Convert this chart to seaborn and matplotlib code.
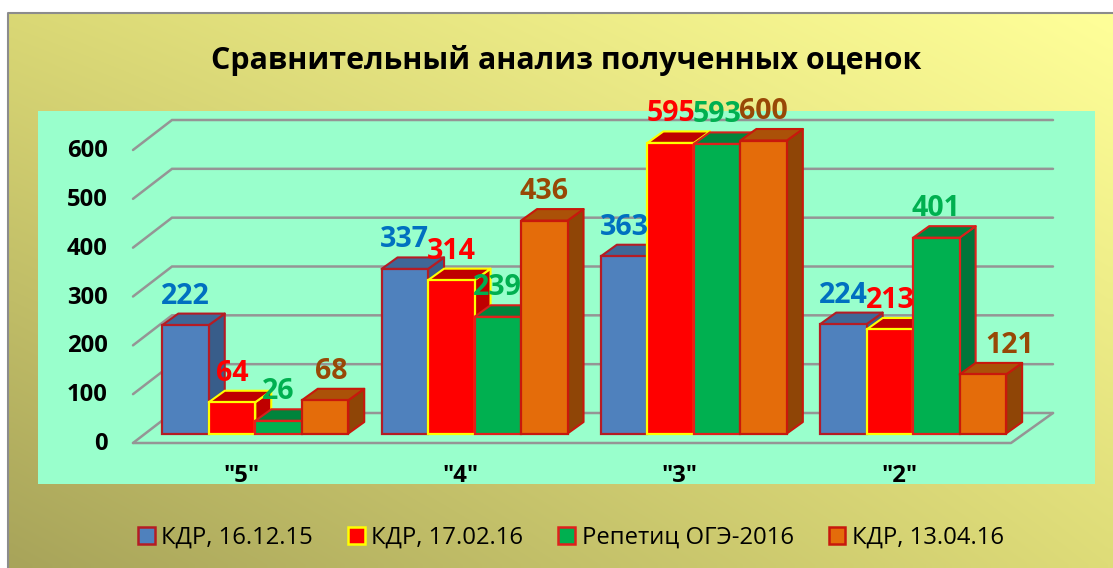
import numpy as np
import pandas as pd
import matplotlib
matplotlib.use("Agg")
import matplotlib.pyplot as plt
from matplotlib.patches import Polygon, Patch, Rectangle
from matplotlib.transforms import ScaledTranslation
from matplotlib.colors import to_rgb
import seaborn as sns

categories = ['"5"', '"4"', '"3"', '"2"']
series_names = ["КДР, 16.12.15", "КДР, 17.02.16", "Репетиц ОГЭ-2016", "КДР, 13.04.16"]
kdr_dec = [222, 337, 363, 224]
kdr_feb = [64, 314, 595, 213]
repetition = [26, 239, 593, 401]
kdr_apr = [68, 436, 600, 121]
y_ticks = [0, 100, 200, 300, 400, 500, 600]

W, H = 1113, 568
DPI = 100
FONT = "Open Sans"

face = ["#4F81BD", "#FF0000", "#00B050", "#E46C0A"]
edge = ["#B51C24", "#FFFF00", "#E0201C", "#C8180C"]
top_c = ["#3F6797", "#BF0000", "#00843C", "#AB5108"]
side_c = ["#385D8A", "#BF0000", "#00753A", "#8F4506"]
top_edge = ["#B51C24", "#FFFF00", "#D8201C", "#C8180C"]
label_c = ["#0070C0", "#FF0000", "#00B050", "#984806"]

sns.set_theme(style="white")
plt.rcParams["font.family"] = [FONT, "DejaVu Sans"]

fig = plt.figure(figsize=(W / DPI, H / DPI), dpi=DPI, facecolor="white")

# background layer in pixel coordinates
bg = fig.add_axes([0, 0, 1, 1], zorder=0)
bg.set_xlim(0, W)
bg.set_ylim(H, 0)
bg.axis("off")
tl, tr = np.array(to_rgb("#DAD875")), np.array(to_rgb("#FFFF99"))
bl, br = np.array(to_rgb("#A8A45A")), np.array(to_rgb("#DEDC78"))
u = np.linspace(0, 1, 120)[None, :, None]
t = np.linspace(0, 1, 80)[:, None, None]
grad = (1 - t) * ((1 - u) * tl + u * tr) + t * ((1 - u) * bl + u * br)
bg.imshow(grad, extent=(8, W, H, 13), interpolation="bilinear", aspect="auto", zorder=1)
bg.set_xlim(0, W)
bg.set_ylim(H, 0)
bg.plot([8, 8, W], [H, 13, 13], color="#8C8C8C", lw=1.5, zorder=2)
bg.add_patch(Rectangle((38, 111), 1057, 373, facecolor="#99FFCC", edgecolor="none", zorder=3))

# front plane of the bars
left_px, right_px = 145.6, 1022.8
base_px, top_px = 433.5, 140.5
ax = fig.add_axes([left_px / W, 1 - base_px / H, (right_px - left_px) / W, (base_px - top_px) / H], zorder=1)
ax.patch.set_alpha(0)

df = pd.DataFrame({
    "cat": np.tile(categories, 4),
    "series": np.repeat(series_names, 4),
    "value": kdr_dec + kdr_feb + repetition + kdr_apr,
})
sns.barplot(data=df, x="cat", y="value", hue="series", order=categories, hue_order=series_names,
            palette=face, width=0.848, gap=0, saturation=1, legend=False, ax=ax, errorbar=None)
ax.set_xlim(-0.5, 3.5)
ax.set_ylim(0, 600)
for s in ax.spines.values():
    s.set_visible(False)
ax.set_xlabel("")
ax.set_ylabel("")

px_x = (right_px - left_px) / 4
px_y = (base_px - top_px) / 600
dx_px, dy_px = 16, 11.5
dx, dy = dx_px / px_x, dy_px / px_y

# depth gridlines
gc = "#959595"
fx = -0.5 + (133 - left_px) / px_x
bx = -0.5 + (172 - left_px) / px_x
ex = -0.5 + (1053 - left_px) / px_x
frx = -0.5 + (1011 - left_px) / px_x
fy = -(443 - base_px) / px_y
by = (base_px - 413) / px_y
for v in y_ticks:
    ax.plot([fx, bx, ex], [v + fy, v + by, v + by], color=gc, lw=1.8, clip_on=False, zorder=1,
            solid_joinstyle="miter")
ax.plot([fx, frx, ex], [fy, fy, by], color=gc, lw=1.8, clip_on=False, zorder=1)

# 3D faces on the bars, left to right
bars = []
for si, cont in enumerate(ax.containers):
    for b in cont.patches:
        bars.append((b.get_x(), si, b))
bars.sort(key=lambda t_: t_[0])
z = 3.0
for _, si, b in bars:
    x0, w, h = b.get_x(), b.get_width(), b.get_height()
    x1 = x0 + w
    ax.add_patch(Polygon([(x1, 0), (x1 + dx, dy), (x1 + dx, h + dy), (x1, h)], closed=True,
                         facecolor=side_c[si], edgecolor=edge[si], lw=1.5, clip_on=False,
                         zorder=z, joinstyle="round"))
    ax.add_patch(Polygon([(x0, h), (x0 + dx, h + dy), (x1 + dx, h + dy), (x1, h)], closed=True,
                         facecolor=top_c[si], edgecolor=top_edge[si], lw=1.5, clip_on=False,
                         zorder=z + 0.1, joinstyle="round"))
    b.set_edgecolor(edge[si])
    b.set_linewidth(1.6)
    b.set_clip_on(False)
    b.set_zorder(z + 0.2)
    z += 0.3

# value labels; (series, category) -> horizontal nudge in pixels
label_shift = {(3, 3): 27, (3, 0): 6}
for si, cont in enumerate(ax.containers):
    for ci, b in enumerate(cont.patches):
        val = b.get_height()
        shift = label_shift.get((si, ci), 0)
        ax.annotate(f"{int(val)}", (b.get_x() + b.get_width() / 2, val),
                    xytext=(shift * 72 / DPI, 29 * 72 / DPI), textcoords="offset points",
                    ha="center", va="center", fontsize=20.5, fontweight="bold", color=label_c[si],
                    zorder=50, annotation_clip=False, family=FONT)

# ticks
ax.set_yticks(y_ticks)
ax.set_yticklabels([str(v) for v in y_ticks], fontsize=17.2, fontweight="bold", color="black")
ax.set_xticks(range(4))
ax.set_xticklabels(categories, fontsize=17.2, fontweight="bold", color="black")
ax.tick_params(axis="both", length=0)
ax.tick_params(axis="y", pad=38 * 72 / DPI)
ax.tick_params(axis="x", pad=30 * 72 / DPI)
for lab in ax.get_yticklabels():
    lab.set_transform(lab.get_transform() + ScaledTranslation(0, -7.5 / DPI, fig.dpi_scale_trans))
for lab in ax.get_xticklabels():
    lab.set_transform(lab.get_transform() + ScaledTranslation(-14 / DPI, 0, fig.dpi_scale_trans))

fig.text(566 / W, 1 - 60 / H, "Сравнительный анализ полученных оценок", ha="center", va="center",
         fontsize=21.9, fontweight="bold", color="black", zorder=5)

handles = [Patch(facecolor=face[i], edgecolor=edge[i], lw=1.8, label=series_names[i]) for i in range(4)]
fig.legend(handles=handles, ncol=4, frameon=False, loc="center",
           bbox_to_anchor=(571 / W, 1 - 537.5 / H), fontsize=17.2, labelcolor="black",
           handlelength=0.7, handleheight=0.7, handletextpad=0.27, columnspacing=1.47, borderpad=0)

fig.savefig("out.png", dpi=DPI, facecolor="white")
